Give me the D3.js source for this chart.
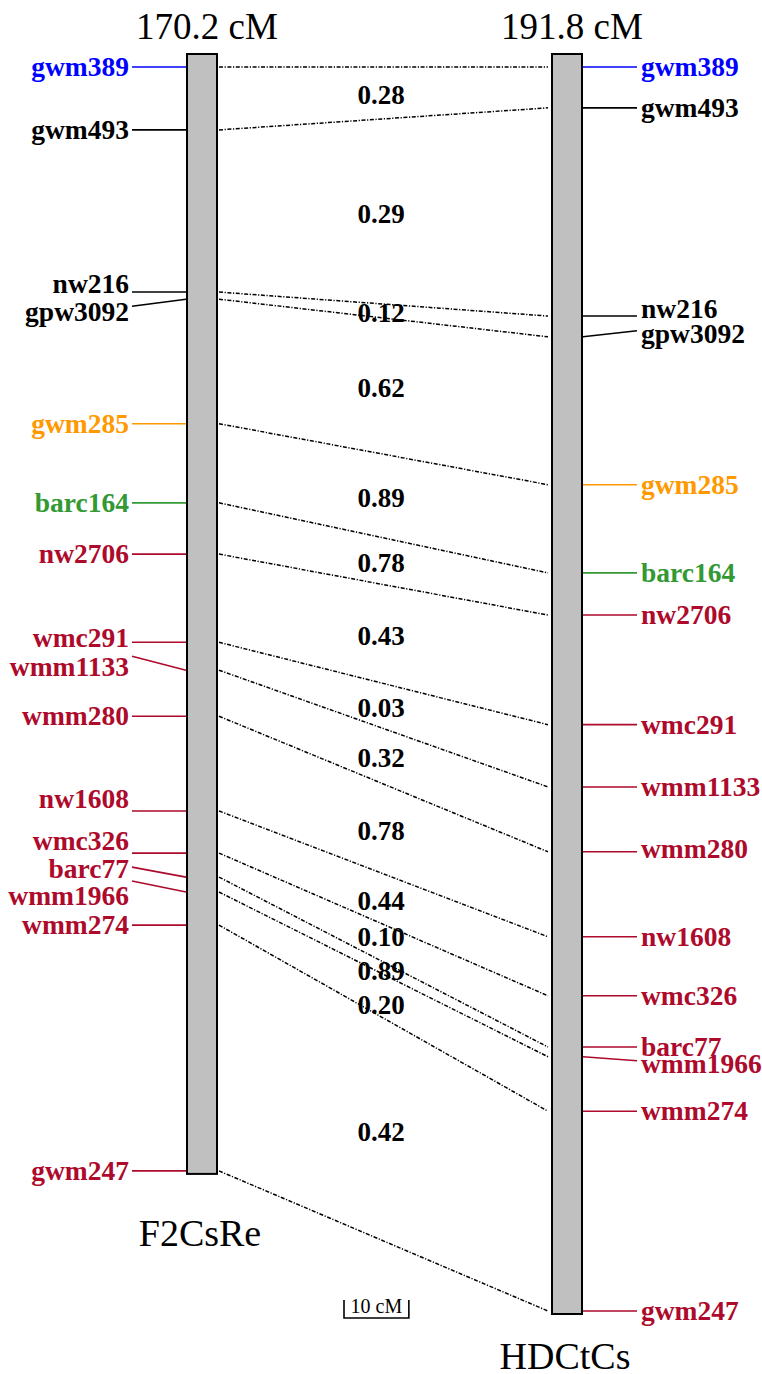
<!DOCTYPE html>
<html>
<head>
<meta charset="utf-8">
<script src="https://cdn.jsdelivr.net/npm/d3@7/dist/d3.min.js"></script>
<style>
  html, body { margin: 0; padding: 0; background: #fff; }
  svg { display: block; }
</style>
</head>
<body>
<script>
// ---------------- DATA ----------------
const markers = ["gwm389","gwm493","nw216","gpw3092","gwm285","barc164","nw2706",
  "wmc291","wmm1133","wmm280","nw1608","wmc326","barc77","wmm1966","wmm274","gwm247"];
// positions (cM) on each map
const leftPos  = [0, 9.7, 34.7, 35.8, 55.0, 67.2, 75.1, 88.7, 93.0, 100.1, 114.7, 121.2, 124.9, 127.2, 132.3, 170.2];
const rightPos = [0, 6.3, 38.4, 41.6, 64.4, 78.0, 84.5, 101.4, 111.0, 121.0, 134.1, 143.2, 151.1, 152.6, 161.0, 191.8];
// values between consecutive markers
const intervalValues = [0.28, 0.29, 0.12, 0.62, 0.89, 0.78, 0.43, 0.03, 0.32, 0.78, 0.44, 0.10, 0.89, 0.20, 0.42];
const mapNames = ["F2CsRe", "HDCtCs"];
const mapLengths = [170.2, 191.8];
const scaleBarCM = 10;

// ---------------- STYLE / LAYOUT ----------------
const BLUE = "#0000ff", BLACK = "#000000", ORANGE = "#ff9900", GREEN = "#339933", RED = "#ad0a2c";
const markerColors = [BLUE, BLACK, BLACK, BLACK, ORANGE, GREEN, RED, RED, RED, RED, RED, RED, RED, RED, RED, RED];
// label nudges (px) to avoid overlaps: text offset and line-end offset
const leftTextDy  = [0, 0, -8, 13, 0, 0, 0, -4, -3, 0, -12, -12, -8, 4, 0, 0];
const leftLineDy  = [0, 0, 0, 7, 0, 0, 0, 0, -14, 0, 0, 0, -10, -11, 0, 0];
const rightTextDy = [0, 0, -7, -3, 0, 0, 0, 0, 0, -3, 0, 0, 0, 7, 0, 0];
const rightLineDy = [0, 0, 0, -6, 0, 0, 0, 0, 0, 0, 0, 0, 0, 4, 0, 0];
const nameDy = [75, 58];

const W = 762, H = 1374;
const SERIF = "'Liberation Serif', 'Times New Roman', Times, serif";
const labelFS = 27.5, numFS = 27, titleFS = 37, nameFS = 38;

const svg = d3.select("body").append("svg").attr("width", W).attr("height", H);

const y = d3.scaleLinear().domain([0, 191.8]).range([67, 1311]);
const pxPerCM = y(1) - y(0);

const bars = [
  {x: 187, w: 30, len: mapLengths[0], pos: leftPos, name: mapNames[0], ndy: nameDy[0]},
  {x: 552, w: 30, len: mapLengths[1], pos: rightPos, name: mapNames[1], ndy: nameDy[1]}
];

// chromosome bars
svg.selectAll("rect.chrom").data(bars).enter().append("rect")
  .attr("class", "chrom")
  .attr("x", d => d.x).attr("width", d => d.w)
  .attr("y", d => y(0) - 13)
  .attr("height", d => y(d.len) + 3 - (y(0) - 13))
  .attr("fill", "#c0c0c0").attr("stroke", "#000").attr("stroke-width", 2);

// length titles on top
svg.selectAll("text.len").data(bars).enter().append("text")
  .attr("x", d => d.x + d.w / 2 + 5).attr("y", 39)
  .attr("text-anchor", "middle")
  .attr("font-family", SERIF).attr("font-size", titleFS)
  .text(d => d3.format(".1f")(d.len) + " cM");

// map names at bottom
svg.selectAll("text.name").data(bars).enter().append("text")
  .attr("x", d => d.x + d.w / 2 - 2)
  .attr("y", d => y(d.len) + d.ndy)
  .attr("text-anchor", "middle")
  .attr("font-family", SERIF).attr("font-size", nameFS)
  .text(d => d.name);

const mk = markers.map((m, i) => ({name: m, i, l: leftPos[i], r: rightPos[i], c: markerColors[i]}));
const base = labelFS * 0.33;

// left label lines & text
const Lbar = bars[0], Rbar = bars[1];
svg.selectAll("line.ll").data(mk).enter().append("line")
  .attr("x1", 132).attr("y1", d => y(d.l) + leftLineDy[d.i])
  .attr("x2", Lbar.x - 1).attr("y2", d => y(d.l))
  .attr("stroke", d => d.c).attr("stroke-width", 1.6);
svg.selectAll("text.lt").data(mk).enter().append("text")
  .attr("x", 129).attr("y", d => y(d.l) + leftTextDy[d.i] + base)
  .attr("text-anchor", "end")
  .attr("font-family", SERIF).attr("font-weight", "bold").attr("font-size", labelFS)
  .attr("fill", d => d.c).text(d => d.name);

// right label lines & text
svg.selectAll("line.rl").data(mk).enter().append("line")
  .attr("x1", Rbar.x + Rbar.w + 1).attr("y1", d => y(d.r))
  .attr("x2", 637).attr("y2", d => y(d.r) + rightLineDy[d.i])
  .attr("stroke", d => d.c).attr("stroke-width", 1.6);
svg.selectAll("text.rt").data(mk).enter().append("text")
  .attr("x", 641).attr("y", d => y(d.r) + rightTextDy[d.i] + base)
  .attr("text-anchor", "start")
  .attr("font-family", SERIF).attr("font-weight", "bold").attr("font-size", labelFS)
  .attr("fill", d => d.c).text(d => d.name);

// connecting dash-dot lines
svg.selectAll("line.conn").data(mk).enter().append("line")
  .attr("x1", Lbar.x + Lbar.w + 2).attr("y1", d => y(d.l))
  .attr("x2", Rbar.x - 4).attr("y2", d => y(d.r))
  .attr("stroke", "#000").attr("stroke-width", 1.5)
  .attr("stroke-dasharray", "4,1.6,1.2,1.6");

// interval values: placed at centre of each quadrilateral, spread to avoid overlap
let nums = intervalValues.map((v, i) => ({
  v, yc: (y(leftPos[i]) + y(leftPos[i + 1]) + y(rightPos[i]) + y(rightPos[i + 1])) / 4
}));
// simple 1-D label spreading (min gap)
const minGap = 34;
let groups = nums.map(n => ({items: [n], center: n.yc}));
let changed = true;
while (changed) {
  changed = false;
  for (let g = 0; g < groups.length - 1; g++) {
    const a = groups[g], b = groups[g + 1];
    const aBottom = a.center + (a.items.length - 1) * minGap / 2;
    const bTop = b.center - (b.items.length - 1) * minGap / 2;
    if (bTop - aBottom < minGap) {
      const items = a.items.concat(b.items);
      const center = d3.mean(items, d => d.yc);
      groups.splice(g, 2, {items, center});
      changed = true;
      break;
    }
  }
}
groups.forEach(g => g.items.forEach((it, k) => {
  it.yp = g.center + (k - (g.items.length - 1) / 2) * minGap;
}));
svg.selectAll("text.num").data(nums).enter().append("text")
  .attr("x", 381).attr("y", d => d.yp + 2 + numFS * 0.338)
  .attr("text-anchor", "middle")
  .attr("font-family", SERIF).attr("font-weight", "bold").attr("font-size", numFS)
  .text(d => d3.format(".2f")(d.v));

// scale bar
const sbX = 344, sbY = 1318;
const sbW = scaleBarCM * pxPerCM;
svg.append("path")
  .attr("d", `M${sbX},${sbY - 18}V${sbY}H${sbX + sbW}V${sbY - 18}`)
  .attr("fill", "none").attr("stroke", "#000").attr("stroke-width", 1.6);
svg.append("text")
  .attr("x", sbX + sbW / 2).attr("y", sbY - 5)
  .attr("text-anchor", "middle")
  .attr("font-family", SERIF).attr("font-size", 20)
  .text(scaleBarCM + " cM");
</script>
</body>
</html>
